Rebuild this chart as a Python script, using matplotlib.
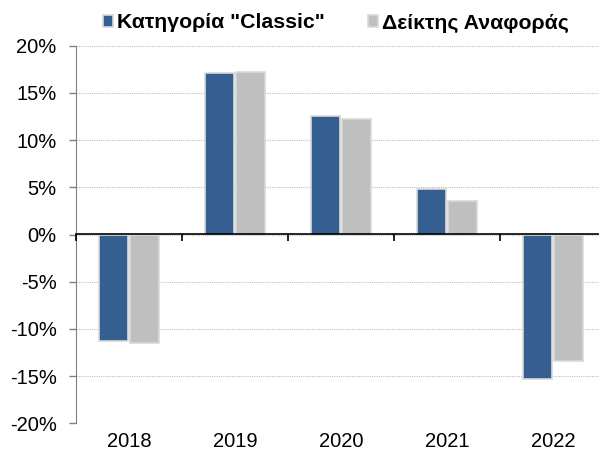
import numpy as np
import matplotlib
matplotlib.use("Agg")
import matplotlib.pyplot as plt
from matplotlib.ticker import FuncFormatter, FixedLocator

plt.rcParams['font.family'] = ['Liberation Sans', 'DejaVu Sans']

years = ['2018', '2019', '2020', '2021', '2022']
classic = [-11.25, 17.1, 12.6, 4.8, -15.3]
benchmark = [-11.5, 17.2, 12.2, 3.6, -13.4]
labels = ['Κατηγορία "Classic"', 'Δείκτης Αναφοράς']

blue = '#365f91'
grey = '#bfbfbf'
edge = '#d9d9d9'

fig = plt.figure(figsize=(5.99, 4.54), dpi=100)
ax = fig.add_axes([76 / 599, 30.7 / 454, 530 / 599, 377.6 / 454])

x = np.arange(len(years))
w = 0.28
ax.bar(x - w / 2 - 0.005, classic, w, color=blue, edgecolor=edge, linewidth=1.2, label=labels[0], zorder=3)
ax.bar(x + w / 2 + 0.005, benchmark, w, color=grey, edgecolor=edge, linewidth=1.2, label=labels[1], zorder=3)

ax.set_xlim(-0.5, 4.5)
ax.set_ylim(-20, 20)
ax.set_yticks(np.arange(-20, 21, 5))
ax.yaxis.set_major_formatter(FuncFormatter(lambda v, p: '%d%%' % v))
ax.grid(axis='y', color='#c0c0c0', linestyle=(0, (1, 1)), linewidth=0.8, zorder=0)

for s in ['top', 'right', 'bottom']:
    ax.spines[s].set_visible(False)
ax.spines['left'].set_color('#808080')
ax.tick_params(axis='y', colors='#808080', length=5, width=1, labelcolor='black', labelsize=14.5, pad=9)
ax.set_xticks(x)
ax.set_xticklabels(years)
ax.tick_params(axis='x', length=0, labelsize=14.5, pad=6)

# zero line with ticks at the category boundaries
sec = ax.secondary_xaxis(0.5)
for s in sec.spines.values():
    s.set_color('black')
    s.set_linewidth(1.2)
sec.xaxis.set_major_locator(FixedLocator(np.arange(-0.5, 4.6, 1)))
sec.set_xticklabels([])
sec.tick_params(axis='x', length=5, width=1.2, color='black', direction='in',
                labeltop=False, labelbottom=False)
sec.set_zorder(4)

fig.legend(loc='center', bbox_to_anchor=(336 / 599, 431 / 454), ncol=2, frameon=False,
           prop={'weight': 'bold', 'size': 15.3}, handlelength=0.47, handleheight=0.47,
           handletextpad=0.2, columnspacing=2.0, borderaxespad=0, borderpad=0)

fig.savefig('out.png', dpi=100)
